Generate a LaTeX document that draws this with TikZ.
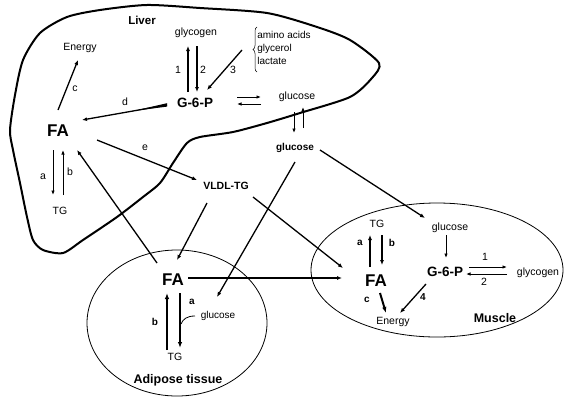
\documentclass[tikz,border=0pt]{standalone}
\usepackage{fontspec}
\setmainfont{Liberation Sans}
\usetikzlibrary{arrows.meta,calc,shapes.geometric,decorations.pathreplacing}
\begin{document}
\begin{tikzpicture}[x=1pt,y=-1pt,
 txt/.style={inner sep=1pt,font=\fontsize{10.5}{12}\selectfont},
 btxt/.style={inner sep=1pt,font=\fontsize{10}{12}\selectfont\bfseries},
 lbl/.style={inner sep=1pt,font=\fontsize{12.5}{14}\selectfont\bfseries},
 bigtxt/.style={inner sep=1pt,font=\fontsize{17}{19}\selectfont\bfseries},
 gsp/.style={inner sep=1pt,font=\fontsize{13.5}{15}\selectfont\bfseries},
 arr/.style={-{Latex[length=5pt,width=4pt]},line width=1.3pt},
 tarr/.style={-{Latex[length=4.5pt,width=3.5pt]},line width=0.9pt},
 karr/.style={-{Latex[length=6pt,width=4.5pt]},line width=2pt},
 organ/.style={draw,ellipse,line width=0.8pt,inner sep=0pt},
]
\useasboundingbox (0,0) rectangle (564,399);

% Liver outline
\draw[line width=2pt,line join=round] plot[smooth cycle,tension=0.45] coordinates {
 (10,130) (13,150) (20,183) (27,217) (33,240) (43,250) (63,253) (83,240)
 (117,217) (143,197) (160,183) (173,163) (187,143) (200,137) (233,132)
 (267,123) (300,113) (350,97) (372,78) (379,63) (350,40) (317,27) (267,13)
 (200,8) (147,5) (100,10) (67,17) (40,33) (23,60) (15,95)};

% Ellipses
\node[organ,minimum width=180pt,minimum height=146pt] (adip) at (177,323) {};
\node[organ,minimum width=252pt,minimum height=134pt] (musc) at (437,270) {};

% Liver nodes
\node[lbl,font=\fontsize{11.5}{13}\selectfont\bfseries] (liver) at (142,20) {Liver};
\node[txt] (lgly) at (196,33) {glycogen};
\node[txt,font=\fontsize{10}{13}\selectfont,align=left] (aa) at (284,48) {amino acids\\glycerol\\lactate};
\draw[decorate,decoration={brace,amplitude=4pt},line width=0.5pt] (257,72) -- (257,27);
\node[txt] (len) at (80,48) {Energy};
\node[txt] (l1) at (178,70) {1};
\node[txt] (l2) at (203,70) {2};
\node[txt] (l3) at (233,70) {3};
\node[gsp] (lg6p) at (195,103) {G-6-P};
\node[txt] (lc) at (75,89) {c};
\node[txt] (ld) at (125,102) {d};
\node[bigtxt] (lfa) at (58,131) {FA};
\node[txt] (le) at (145,148) {e};
\node[txt] (lglc) at (297,97) {glucose};
\node[btxt] (lglc2) at (295,148) {glucose};
\node[txt] (la) at (43,177) {a};
\node[txt] (lb) at (70,172) {b};
\node[txt] (ltg) at (60,211) {TG};
\node[btxt,font=\fontsize{10.5}{12}\selectfont\bfseries] (vldl) at (226,186) {VLDL-TG};

% Adipose nodes
\node[bigtxt] (afa) at (173,280) {FA};
\node[btxt] (ab) at (155,322) {b};
\node[btxt] (aa2) at (192,302) {a};
\node[txt,font=\fontsize{10}{12}\selectfont] (aglc) at (218,316) {glucose};
\node[txt] (atg) at (175,357) {TG};
\node[lbl] (alabel) at (178,380) {Adipose tissue};

% Muscle nodes
\node[txt] (mtg) at (377,224) {TG};
\node[btxt] (ma) at (360,243) {a};
\node[btxt] (mb) at (392,243) {b};
\node[bigtxt] (mfa) at (376,281) {FA};
\node[btxt] (mc) at (367,300) {c};
\node[txt] (men) at (393,322) {Energy};
\node[txt] (mglc) at (450,228) {glucose};
\node[gsp] (mg6p) at (445,272) {G-6-P};
\node[btxt] (m4) at (423,297) {4};
\node[txt] (m1) at (485,257) {1};
\node[txt] (m2) at (484,282) {2};
\node[txt] (mgly) at (538,273) {glycogen};
\node[lbl] (mlabel) at (495,318) {Muscle};

% Liver arrows
\draw[arr] ($(lg6p)+(-7,-11)$) -- ($(lgly)+(-8,13)$);
\draw[arr] ($(lgly)+(1,13)$) -- ($(lg6p)+(2,-11)$);
\draw[arr] ($(aa)+(-42,2)$) -- ($(lg6p)+(12,-13)$);
\draw[arr] ($(lfa)+(0,-21)$) -- ($(len)+(-2,12)$);
\draw[arr] ($(lg6p)+(-28,2)$) -- ($(lfa)+(24,-11)$);
\fill ($(lg6p)+(-28,0.2)$) -- ($(lg6p)+(-28,3.6)$) -- ($(lfa)+(75,-20)$) -- cycle;
\draw[arr] ($(lfa)+(39,9)$) -- ($(vldl)+(-29,-6)$);
\draw[tarr] ($(lg6p)+(42,-6)$) -- ($(lglc)+(-36,0)$);
\draw[tarr] ($(lglc)+(-36,7)$) -- ($(lg6p)+(42,1)$);
\draw[tarr] ($(lglc)+(-3,15)$) -- ($(lglc2)+(-1,-15)$);
\draw[tarr] ($(lglc2)+(8,-20)$) -- ($(lglc)+(6,10)$);
\draw[tarr] ($(lfa)+(-5,19)$) -- ($(ltg)+(-7,-16)$);
\draw[tarr] ($(ltg)+(3,-16)$) -- ($(lfa)+(5,19)$);

% Inter-organ arrows
\draw[arr] ($(lglc2)+(0,14)$) -- ($(aglc)+(-1,-19)$);
\draw[arr] ($(lglc2)+(25,2)$) -- ($(mglc)+(-25,-10)$);
\draw[arr] ($(vldl)+(-19,17)$) -- ($(afa)+(4,-20)$);
\draw[arr] ($(vldl)+(27,11)$) -- ($(mfa)+(-33,-13)$);
\draw[arr] ($(afa)+(-16,-17)$) -- ($(lfa)+(19,19)$);
\draw[arr] ($(afa)+(15,-2)$) -- ($(mfa)+(-34,-3)$);

% Adipose arrows
\draw[karr] ($(atg)+(-8,-7)$) -- ($(afa)+(-6,13)$);
\draw[karr] ($(afa)+(7,13)$) -- ($(atg)+(5,-9)$);
\draw[line width=0.8pt] ($(aglc)+(-23,0)$) .. controls ($(aglc)+(-31,0)$) and ($(aglc)+(-35,3)$) .. ($(afa)+(8,44)$);

% Muscle arrows
\draw[arr] ($(mfa)+(-6,-14)$) -- ($(mtg)+(-7,11)$);
\draw[arr] ($(mtg)+(5,11)$) -- ($(mfa)+(6,-16)$);
\draw[karr] ($(mfa)+(4,12)$) -- ($(men)+(-7,-9)$);
\draw[tarr] ($(mglc)+(-4,7)$) -- ($(mg6p)+(1,-14)$);
\draw[arr] ($(mg6p)+(-19,12)$) -- ($(men)+(7,-9)$);
\draw[tarr] ($(mg6p)+(24,-5)$) -- ($(mgly)+(-31,-6)$);
\draw[tarr] ($(mgly)+(-31,1)$) -- ($(mg6p)+(21,2)$);
\end{tikzpicture}
\end{document}
